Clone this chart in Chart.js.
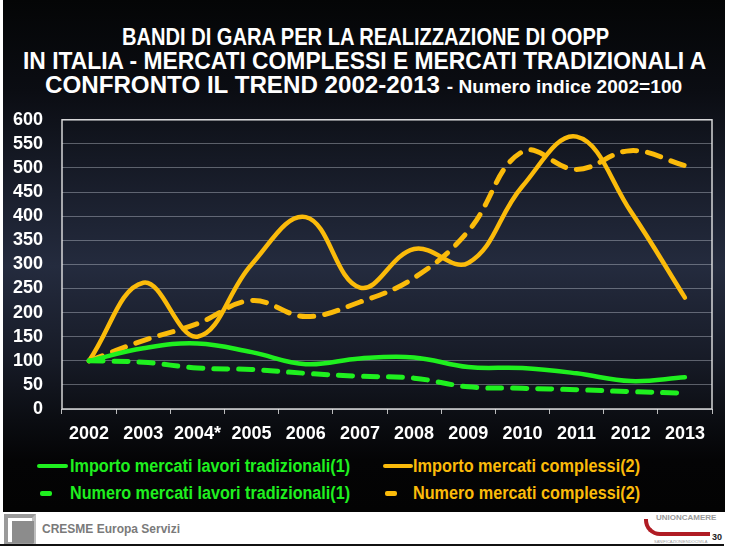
<!DOCTYPE html>
<html>
<head>
<meta charset="utf-8">
<script src="https://cdn.jsdelivr.net/npm/chart.js@4.4.1/dist/chart.umd.min.js"></script>
<style>
  html, body { margin: 0; padding: 0; background: #fff; }
  #page { position: relative; width: 731px; height: 552px; overflow: hidden; background: #fff; font-family: "Liberation Sans", Arial, sans-serif; }
  #panel { position: absolute; left: 3px; top: 0; width: 722px; height: 512px;
    background: linear-gradient(to bottom, #040506 0%, #0b0d13 18%, #1a1f2d 38%, #242b3e 52%, #171b27 70%, #0b0d12 82%, #040405 90%, #030303 100%); }
  .fit { position: absolute; white-space: nowrap; font-weight: bold; transform-origin: left center; line-height: 1; }
  .title { color: #fff; font-size: 24px; }
  .title small { font-size: 19px; }
  .leg { font-size: 18px; }
  .sw { position: absolute; }
  #chartWrap { position: absolute; left: 0; top: 90px; width: 731px; height: 355px; }
  #footer .logo1 { position: absolute; left: 4px; top: 514px; width: 24px; height: 24px; border: 4px solid #9a9a9a; border-right-color: #bdbdbd; }
  #footer .logo1b { position: absolute; left: 12px; top: 521px; width: 22px; height: 22px; background: #8c8c8c; }
  #footer .cresme { position: absolute; left: 42px; top: 522px; font-size: 12px; font-weight: bold; color: #7a7a7a; }
  #footer .rule { position: absolute; left: 0; top: 544px; width: 724px; height: 2px; background: #111; }
  #footer .uc { position: absolute; left: 656px; top: 513px; font-size: 8px; font-weight: bold; color: #9a9a9a; }
  #footer .swoosh { position: absolute; left: 644px; top: 519px; width: 62px; height: 13px; border-left: 4px solid #b01c24; border-bottom: 4px solid #b01c24; border-bottom-left-radius: 16px; }
  #footer .ucs { position: absolute; left: 654px; top: 539px; font-size: 4px; color: #999; }
  #footer .pg { position: absolute; left: 712px; top: 532px; font-size: 9px; font-weight: bold; color: #222; }
</style>
</head>
<body>
<div id="page">
  <div id="panel"></div>

  <div class="fit title" data-x="122" data-y="37" data-w="487">BANDI DI GARA PER LA REALIZZAZIONE DI OOPP</div>
  <div class="fit title" data-x="23" data-y="61" data-w="683">IN ITALIA - MERCATI COMPLESSI E MERCATI TRADIZIONALI A</div>
  <div class="fit title" data-x="45" data-y="85" data-w="637">CONFRONTO IL TREND 2002-2013 <small>- Numero indice 2002=100</small></div>

  <div id="chartWrap"><canvas id="bandiChart" width="731" height="355"></canvas></div>

  <div id="legend"></div>

  <div id="footer">
    <div class="logo1"></div>
    <div class="logo1b"></div>
    <div class="cresme">CRESME Europa Servizi</div>
    <div class="swoosh"></div>
    <div class="uc">UNIONCAMERE</div>
    <div class="ucs">SANIFICAZIONIENDOCIVILA</div>
    <div class="pg">30</div>
    <div class="rule"></div>
  </div>
</div>

<script>
// Dati (numero indice 2002=100)
const years = ['2002', '2003', '2004*', '2005', '2006', '2007', '2008', '2009', '2010', '2011', '2012', '2013'];
const importoTradizionali = [100, 126, 136, 118, 93, 105, 107, 87, 85, 74, 58, 66];
const importoComplessi = [100, 262, 150, 300, 398, 252, 332, 303, 462, 565, 410, 231];
const numeroTradizionali = [100, 97, 85, 82, 74, 68, 64, 46, 43, 40, 36, 33];
const numeroComplessi = [100, 142, 177, 225, 192, 222, 272, 369, 534, 497, 536, 505];
const yMin = 0;
const yMax = 600;
const yStep = 50;

const GREEN = '#1ff01f';
const ORANGE = '#fbbb0a';

const seriesLabels = [
  'Importo mercati lavori tradizionali(1)',
  'Importo mercati complessi(2)',
  'Numero mercati lavori tradizionali(1)',
  'Numero mercati complessi(2)'
];

// box around plot area
const frame = {
  id: 'frame',
  beforeDatasetsDraw(chart) {
    const a = chart.chartArea;
    const ctx = chart.ctx;
    ctx.save();
    ctx.strokeStyle = 'rgba(235,235,235,0.9)';
    ctx.lineWidth = 1.5;
    ctx.strokeRect(a.left, a.top, a.right - a.left, a.bottom - a.top);
    ctx.restore();
  }
};

function renderChart() {
  const ctx = document.getElementById('bandiChart').getContext('2d');
  new Chart(ctx, {
    type: 'line',
    data: {
      labels: years,
      datasets: [
        { label: seriesLabels[0], data: importoTradizionali, borderColor: GREEN, borderWidth: 4.5 },
        { label: seriesLabels[2], data: numeroTradizionali, borderColor: GREEN, borderWidth: 5, borderDash: [14, 11] },
        { label: seriesLabels[3], data: numeroComplessi, borderColor: ORANGE, borderWidth: 5, borderDash: [14, 11] },
        { label: seriesLabels[1], data: importoComplessi, borderColor: ORANGE, borderWidth: 4.5 }
      ]
    },
    options: {
      responsive: false,
      animation: false,
      devicePixelRatio: 1,
      elements: {
        point: { radius: 0 },
        line: { tension: 0.4, fill: false, borderCapStyle: 'round' }
      },
      layout: { padding: { left: 0, right: 19, top: 8, bottom: 0 } },
      plugins: {
        legend: { display: false },
        tooltip: { enabled: false }
      },
      scales: {
        x: {
          offset: true,
          grid: { offset: true, drawOnChartArea: false, color: 'rgba(230,230,230,0.8)', tickLength: 5 },
          border: { display: false },
          ticks: { color: '#fff', font: { family: 'Liberation Sans', size: 18, weight: 'bold' }, padding: 9, maxRotation: 0, autoSkip: false },
          afterFit(scale) { scale.height = 36; }
        },
        y: {
          min: yMin,
          max: yMax,
          grid: { color: 'rgba(210,215,225,0.38)', lineWidth: 1, drawTicks: false },
          border: { display: false },
          ticks: { stepSize: yStep, autoSkip: false, color: '#fff', font: { family: 'Liberation Sans', size: 18, weight: 'bold' }, padding: 19 },
          afterFit(scale) { scale.width = 62; }
        }
      }
    },
    plugins: [frame]
  });
}

function buildLegend() {
  const items = [
    { text: seriesLabels[0], color: GREEN, dashed: false, sx: 37, sw: 31, tx: 70, tw: 280, y: 466 },
    { text: seriesLabels[1], color: ORANGE, dashed: false, sx: 383, sw: 30, tx: 413, tw: 227, y: 466 },
    { text: seriesLabels[2], color: GREEN, dashed: true, sx: 40, sw: 12, tx: 70, tw: 280, y: 493 },
    { text: seriesLabels[3], color: ORANGE, dashed: true, sx: 385, sw: 12, tx: 413, tw: 227, y: 493 }
  ];
  const box = document.getElementById('legend');
  items.forEach(it => {
    const s = document.createElement('div');
    s.className = 'sw';
    s.style.left = it.sx + 'px';
    s.style.width = it.sw + 'px';
    s.style.top = (it.y - 2) + 'px';
    s.style.height = (it.dashed ? 5 : 4) + 'px';
    s.style.background = it.color;
    s.style.borderRadius = '2px';
    box.appendChild(s);

    const t = document.createElement('div');
    t.className = 'fit leg';
    t.textContent = it.text;
    t.style.color = it.color;
    t.dataset.x = it.tx;
    t.dataset.y = it.y;
    t.dataset.w = it.tw;
    box.appendChild(t);
  });
}

function fitTexts() {
  document.querySelectorAll('.fit').forEach(el => {
    const w = el.offsetWidth;
    const h = el.offsetHeight;
    const k = parseFloat(el.dataset.w) / w;
    el.style.left = el.dataset.x + 'px';
    el.style.top = (parseFloat(el.dataset.y) - h / 2) + 'px';
    el.style.transform = 'scaleX(' + k + ')';
  });
}

window.onload = function () {
  buildLegend();
  fitTexts();
  renderChart();
};
</script>
</body>
</html>
